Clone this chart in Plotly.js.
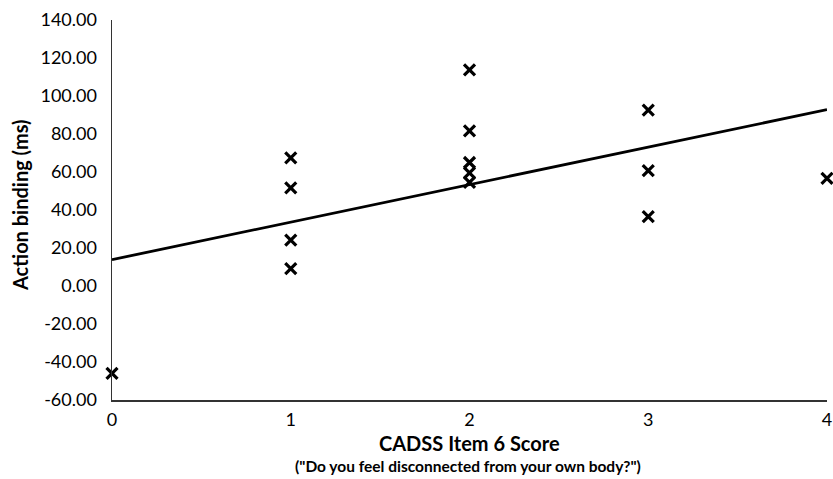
<!DOCTYPE html>
<html>
<head>
<meta charset="utf-8">
<script src="https://cdn.plot.ly/plotly-3.0.1.min.js"></script>
<style>html,body{margin:0;padding:0;background:#fff;}#chart{width:833px;height:479px;}</style>
</head>
<body>
<div id="chart"></div>
<script>
// CADSS Item 6 score (x) and action binding in ms (y)
const scores = [0, 1, 1, 1, 1, 2, 2, 2, 2, 2, 3, 3, 3, 4];
const binding = [-46, 67.4, 51.7, 24.2, 9.1, 113.7, 81.6, 65, 59.5, 54.5, 92.6, 60.7, 36.5, 56.7];
const xTicks = [0, 1, 2, 3, 4];
const yTicks = [-60, -40, -20, 0, 20, 40, 60, 80, 100, 120, 140];

// least-squares trend line from the data
const n = scores.length;
const mx = scores.reduce((a, b) => a + b, 0) / n;
const my = binding.reduce((a, b) => a + b, 0) / n;
let sxy = 0, sxx = 0;
for (let i = 0; i < n; i++) { sxy += (scores[i] - mx) * (binding[i] - my); sxx += (scores[i] - mx) ** 2; }
const slope = sxy / sxx, intercept = my - slope * mx;
const trendX = [xTicks[0], xTicks[xTicks.length - 1]];
const trendY = trendX.map(x => intercept + slope * x);

const font = "Lato, 'Open Sans', sans-serif";
const data = [
  {x: trendX, y: trendY, mode: 'lines', type: 'scatter', line: {color: '#000', width: 2.8}, hoverinfo: 'skip', cliponaxis: false},
  {x: scores, y: binding, mode: 'markers', type: 'scatter', cliponaxis: false,
   marker: {symbol: 'x-thin', size: 11, color: '#000', line: {color: '#000', width: 3.2}}}
];
const L = 112, T = 20, B = 79, H = 479;
const ph = H - T - B;
const pw = 833 - L - 6;
const layout = {
  width: 833, height: 479,
  margin: {l: L, r: 6, t: T, b: B},
  paper_bgcolor: '#fff', plot_bgcolor: '#fff',
  showlegend: false,
  font: {family: font, color: '#000', size: 18},
  xaxis: {range: [0, 4], tickvals: xTicks, ticktext: xTicks.map(String), showgrid: false, zeroline: false,
          showline: true, linecolor: '#333', linewidth: 1.5, ticks: '', ticklen: 0, ticklabelstandoff: 3,
          tickfont: {size: 18, family: font, color: '#000'}},
  yaxis: {range: [-60, 140], tickvals: yTicks, ticktext: yTicks.map(v => v.toFixed(2)), showgrid: false, zeroline: false,
          showline: true, linecolor: '#333', linewidth: 1.5, ticks: '', ticklabelstandoff: 10,
          tickfont: {size: 18, family: font, color: '#000'}},
  annotations: [
    {text: '<b>Action binding (ms)</b>', textangle: -90, x: (20 - L) / pw, xref: 'paper', xanchor: 'center',
     y: (400 - 205) / ph, yref: 'paper', yanchor: 'middle', showarrow: false, font: {size: 20, family: font}},
    {text: '<b>CADSS Item 6 Score</b>', x: 0.5, xref: 'paper', xanchor: 'center', y: (400 - 443) / ph, yref: 'paper',
     yanchor: 'middle', showarrow: false, font: {size: 20, family: font}},
    {text: '<b>("Do you feel disconnected from your own body?")</b>', x: (468 - L) / pw, xref: 'paper', xanchor: 'center',
     y: (400 - 477) / ph, yref: 'paper', yanchor: 'bottom', showarrow: false, font: {size: 15.5, family: font}}
  ]
};
Plotly.newPlot('chart', data, layout, {displayModeBar: false, staticPlot: true});
</script>
</body>
</html>
